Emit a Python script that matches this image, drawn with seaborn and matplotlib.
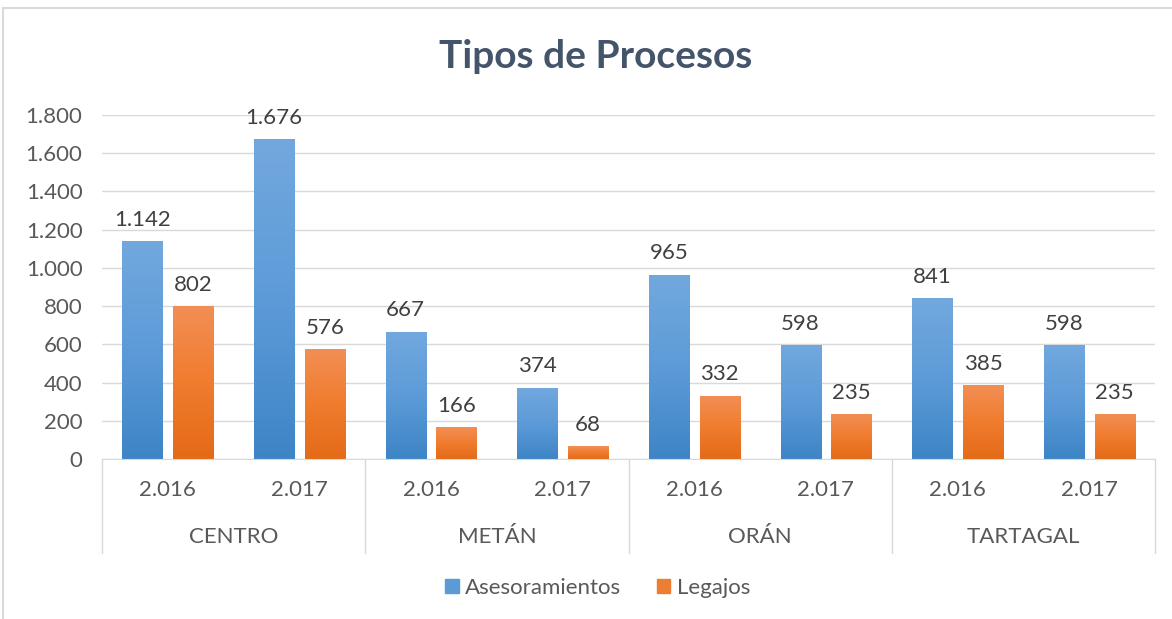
import matplotlib
matplotlib.use("Agg")
import matplotlib.pyplot as plt
import matplotlib.transforms as mtransforms
from matplotlib.lines import Line2D
from matplotlib.patches import Patch
from matplotlib.colors import LinearSegmentedColormap
import numpy as np
import pandas as pd
import seaborn as sns

# datos del grafico
regiones = ["CENTRO", "METÁN", "ORÁN", "TARTAGAL"]
anios = ["2.016", "2.017"]
series = ["Asesoramientos", "Legajos"]
asesoramientos = [1142, 1676, 667, 374, 965, 598, 841, 598]
legajos = [802, 576, 166, 68, 332, 235, 385, 235]
y_ticks = [0, 200, 400, 600, 800, 1000, 1200, 1400, 1600, 1800]

grupos = [f"{r} {a}" for r in regiones for a in anios]
df = pd.DataFrame({
    "grupo": grupos * 2,
    "serie": [series[0]] * len(grupos) + [series[1]] * len(grupos),
    "valor": asesoramientos + legajos,
})

sns.set_style("white")
plt.rcParams["font.family"] = ["Lato", "DejaVu Sans"]

gris_txt = "#595959"
gris_lin = "#d9d9d9"
azul = "#5b9bd5"
naranja = "#ed7d31"
fs = 16

fig = plt.figure(figsize=(11.72, 6.19), dpi=100)
ax = fig.add_axes([102 / 1172, 1 - 459 / 619, (1155 - 102) / 1172, (459 - 115) / 619])

sns.barplot(data=df, x="grupo", y="valor", hue="serie", order=grupos,
            hue_order=series, palette=[azul, naranja], width=0.77, gap=0.21,
            saturation=1, legend=False, errorbar=None, ax=ax)

# degradado en las barras (claro arriba, oscuro abajo)
cmaps = [LinearSegmentedColormap.from_list("az", ["#3d85c6", "#5d9bd8", "#72a8de"]),
         LinearSegmentedColormap.from_list("na", ["#e46a17", "#f07c2e", "#f28f55"])]
grad = np.linspace(0, 1, 256).reshape(-1, 1)
for i, cont in enumerate(ax.containers):
    for p in cont:
        x0, y0, w, h = p.get_x(), p.get_y(), p.get_width(), p.get_height()
        im = ax.imshow(grad, extent=[x0, x0 + w, y0, y0 + h], aspect="auto",
                       cmap=cmaps[i], origin="lower", zorder=2)
        im.set_clip_path(p)
        p.set_edgecolor("none")
    etiquetas = [f"{int(v):,}".replace(",", ".") for v in cont.datavalues]
    ax.bar_label(cont, labels=etiquetas, padding=8, fontsize=fs, color="#404040")

ax.set_xlim(-0.5, len(grupos) - 0.5)
ax.set_ylim(0, 1800)
ax.set_yticks(y_ticks)
ax.set_yticklabels([f"{v:,}".replace(",", ".") for v in y_ticks])
ax.tick_params(axis="y", length=0, labelsize=fs, labelcolor=gris_txt, pad=14)
ax.set_xticks([])
ax.set_xlabel("")
ax.set_ylabel("")
ax.yaxis.grid(True, color=gris_lin, lw=1)
ax.set_axisbelow(True)
for s in ["top", "right", "left"]:
    ax.spines[s].set_visible(False)
ax.spines["bottom"].set_color(gris_lin)
ax.spines["bottom"].set_zorder(3)

# etiquetas del eje x en dos niveles
blend = mtransforms.blended_transform_factory(ax.transData, ax.transAxes)
for i, g in enumerate(grupos):
    ax.text(i, -31 / 344, anios[i % 2], transform=blend, ha="center", va="center",
            fontsize=fs, color=gris_txt)
for j, r in enumerate(regiones):
    ax.text(2 * j + 0.5, -78 / 344, r, transform=blend, ha="center", va="center",
            fontsize=fs, color=gris_txt)
for j in range(len(regiones) + 1):
    ax.plot([2 * j - 0.5] * 2, [0, -94 / 344], transform=blend, color=gris_lin,
            lw=1, clip_on=False)

# titulo
fig.text(0.508, 1 - 57 / 619, "Tipos de Procesos", ha="center", va="center",
         fontsize=28, fontweight="bold", color="#44546a")

# leyenda
handles = [Patch(color=azul), Patch(color=naranja)]
fig.legend(handles, series, loc="center", bbox_to_anchor=(0.51, 1 - 588 / 619),
           ncol=2, frameon=False, fontsize=fs, labelcolor=gris_txt,
           handlelength=0.6, handleheight=0.6, handletextpad=0.3, columnspacing=1.6)

# marco exterior
fig.add_artist(Line2D([3 / 1172, 1], [1 - 8 / 619] * 2, transform=fig.transFigure,
                      color=gris_lin, lw=1.5))
fig.add_artist(Line2D([3 / 1172] * 2, [0, 1 - 8 / 619], transform=fig.transFigure,
                      color=gris_lin, lw=1.5))

fig.savefig("out.png", dpi=100)
